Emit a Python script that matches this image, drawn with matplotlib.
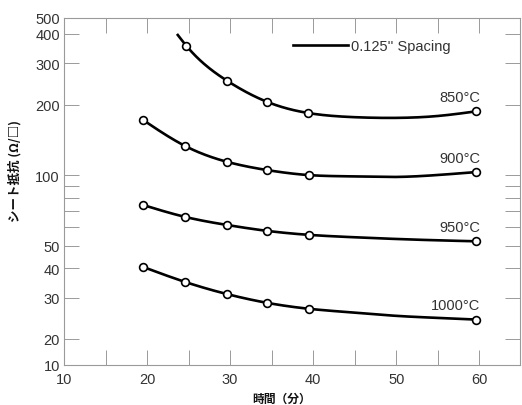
import numpy as np
import matplotlib
matplotlib.use("Agg")
import matplotlib.pyplot as plt
from matplotlib.lines import Line2D

# ---------------- data ----------------
t_850 = [24.7, 29.6, 34.5, 39.4, 59.6]
r_850 = [357, 253, 205, 184, 187]
t_900 = [19.5, 24.6, 29.6, 34.5, 39.5, 59.6]
r_900 = [172, 133, 114, 105, 100, 103]
t_950 = [19.5, 24.6, 29.6, 34.5, 39.5, 59.6]
r_950 = [74.6, 66.3, 61.3, 57.8, 55.6, 52.2]
t_1000 = [19.5, 24.6, 29.6, 34.5, 39.5, 59.6]
r_1000 = [40.6, 35.0, 31.1, 28.5, 26.9, 24.2]

# extra points (no markers there)
ct_850 = [23.6, 45, 50, 55]
cr_850 = [400, 176.6, 175.4, 178.7]
ct_900 = [45, 50, 55]
cr_900 = [98.7, 98.2, 100.1]
ct_950 = [45, 50, 55]
cr_950 = [54.3, 53.4, 52.7]
ct_1000 = [45, 50, 55]
cr_1000 = [25.9, 25.1, 24.6]

series_labels = ["850°C", "900°C", "950°C", "1000°C"]
x_major = [10, 20, 30, 40, 50, 60]
x_minor = [15, 25, 35, 45, 55]
y_major = [10, 20, 30, 40, 50, 100, 200, 300, 400, 500]
y_minor = [60, 70, 80, 90]
legend_text = "0.125'' Spacing"
xlabel = "時間（分）"
ylabel = "シート抵抗 (Ω/□)"

# ---------------- helpers ----------------
L20, L400 = np.log10(20), np.log10(400)
D_LOW, D_HIGH = 0.111, 0.068


def fwd(v):
    v = np.asarray(v, dtype=float)
    lg = np.log10(np.clip(v, 1e-12, None))
    lo = L20 - (20 - v) / 10 * D_LOW
    hi = L400 + (v - 400) / 100 * D_HIGH
    return np.where(v < 20, lo, np.where(v > 400, hi, lg))


def inv(u):
    u = np.asarray(u, dtype=float)
    lo = 20 - (L20 - u) / D_LOW * 10
    hi = 400 + (u - L400) / D_HIGH * 100
    mid = 10 ** np.clip(u, -10, 10)
    return np.where(u < L20, lo, np.where(u > L400, hi, mid))


def natural_spline(x, y, xs):
    x = np.asarray(x, float)
    y = np.asarray(y, float)
    n = len(x)
    h = np.diff(x)
    M = np.zeros(n)
    if n > 2:
        A = np.zeros((n - 2, n - 2))
        b = np.zeros(n - 2)
        for i in range(n - 2):
            A[i, i] = 2 * (h[i] + h[i + 1])
            if i + 1 < n - 2:
                A[i, i + 1] = h[i + 1]
                A[i + 1, i] = h[i + 1]
            b[i] = 6 * ((y[i + 2] - y[i + 1]) / h[i + 1] - (y[i + 1] - y[i]) / h[i])
        M[1:-1] = np.linalg.solve(A, b)
    idx = np.clip(np.searchsorted(x, xs) - 1, 0, n - 2)
    x0, x1 = x[idx], x[idx + 1]
    hh = x1 - x0
    a = (x1 - xs) / hh
    c = (xs - x0) / hh
    return (a * y[idx] + c * y[idx + 1]
            + ((a ** 3 - a) * M[idx] + (c ** 3 - c) * M[idx + 1]) * hh ** 2 / 6)


# ---------------- figure ----------------
plt.rcParams['font.family'] = ['Liberation Sans', 'DejaVu Sans']
fig = plt.figure(figsize=(5.22, 4.06), dpi=100)
ax = fig.add_axes([64 / 522, 1 - 366 / 406, 456 / 522, 347 / 406])
ax.set_yscale('function', functions=(fwd, inv))
ax.set_xlim(10, 64.9)
ax.set_ylim(10, 500)

series = [(t_850, r_850, ct_850, cr_850),
          (t_900, r_900, ct_900, cr_900),
          (t_950, r_950, ct_950, cr_950),
          (t_1000, r_1000, ct_1000, cr_1000)]

for (t, r, ct, cr), lab in zip(series, series_labels):
    allt = np.array(list(t) + list(ct))
    allr = np.array(list(r) + list(cr))
    order = np.argsort(allt)
    allt, allr = allt[order], allr[order]
    xs = np.linspace(allt[0], allt[-1], 300)
    ys = 10 ** natural_spline(allt, np.log10(allr), xs)
    ax.plot(xs, ys, color='black', lw=1.9, solid_capstyle='butt', zorder=2)
    ax.plot(t, r, 'o', ms=5.6, mfc='white', mec='black', mew=1.2, zorder=3)
    ax.annotate(lab, xy=(t[-1], r[-1]), xytext=(3, 10.5), textcoords='offset points',
                ha='right', va='center', fontsize=10.5, color='#333')

ax.set_xticks(x_major)
ax.set_xticks(x_minor, minor=True)
ax.set_yticks(y_major)
ax.set_yticklabels([str(v) for v in y_major])
ax.set_yticks(y_minor, minor=True)
ax.yaxis.set_minor_formatter(matplotlib.ticker.NullFormatter())

for sp in ax.spines.values():
    sp.set_color('#9a9a9a')
    sp.set_linewidth(0.8)
ax.tick_params(which='both', direction='in', length=10.8, width=0.7,
               color='#9a9a9a', top=True, right=True,
               labelsize=10.5, labelcolor='#333')
ax.tick_params(axis='y', pad=3)
ax.tick_params(axis='x', pad=5)

ax.set_xlabel(xlabel, family=['Noto Sans CJK JP', 'DejaVu Sans'],
              fontweight='bold', fontsize=8.5, color='#111')
ax.xaxis.set_label_coords((282 - 64) / 456, (366 - 393) / 347)
ax.set_ylabel(ylabel, family=['Noto Sans CJK JP', 'DejaVu Sans'],
              fontweight='bold', fontsize=9, color='#111', va='center')
ax.yaxis.set_label_coords((15 - 64) / 456, (366 - 171) / 347)

handle = Line2D([], [], color='black', lw=1.9)
ax.legend([handle], [legend_text], loc='center left',
          bbox_to_anchor=((293 - 64) / 456, (366 - 47) / 347),
          frameon=False, handlelength=3.8, handletextpad=0.2,
          borderpad=0, borderaxespad=0, fontsize=10.5, labelcolor='#333')

fig.savefig('out.png', dpi=100)
